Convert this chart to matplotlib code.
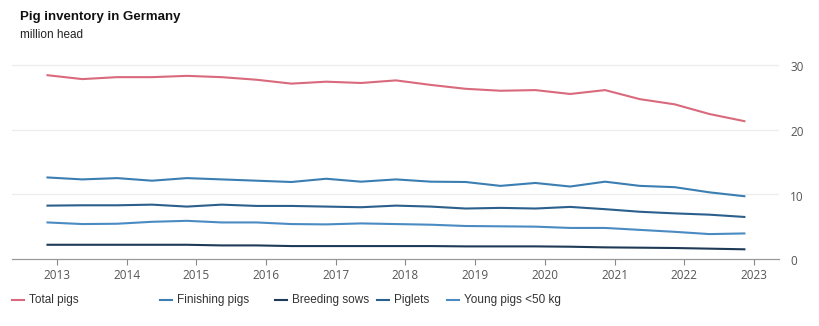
import matplotlib
matplotlib.use("Agg")
import matplotlib.pyplot as plt
from matplotlib.lines import Line2D

# Survey dates (May / November counts), million head
survey_months = [
    "2012-11", "2013-05", "2013-11", "2014-05", "2014-11", "2015-05", "2015-11",
    "2016-05", "2016-11", "2017-05", "2017-11", "2018-05", "2018-11", "2019-05",
    "2019-11", "2020-05", "2020-11", "2021-05", "2021-11", "2022-05", "2022-11",
]
total_pigs = [28.4, 27.8, 28.1, 28.1, 28.3, 28.1, 27.7, 27.1, 27.4, 27.2, 27.6,
              26.9, 26.3, 26.0, 26.1, 25.5, 26.1, 24.7, 23.9, 22.4, 21.3]
finishing_pigs = [12.6, 12.3, 12.5, 12.1, 12.5, 12.3, 12.1, 11.9, 12.4, 11.95, 12.3,
                  11.95, 11.9, 11.3, 11.75, 11.2, 11.95, 11.3, 11.1, 10.3, 9.7]
breeding_sows = [2.2, 2.2, 2.2, 2.2, 2.2, 2.1, 2.1, 2.0, 2.0, 2.0, 2.0,
                 2.0, 1.95, 1.95, 1.95, 1.9, 1.8, 1.75, 1.7, 1.6, 1.5]
piglets = [8.25, 8.3, 8.3, 8.4, 8.1, 8.4, 8.2, 8.2, 8.1, 8.0, 8.25,
           8.1, 7.8, 7.9, 7.8, 8.05, 7.7, 7.3, 7.05, 6.85, 6.5]
young_pigs = [5.65, 5.4, 5.45, 5.75, 5.9, 5.65, 5.65, 5.4, 5.35, 5.5, 5.4,
              5.3, 5.1, 5.05, 5.0, 4.8, 4.8, 4.5, 4.2, 3.85, 3.95]
years = list(range(2013, 2024))
y_ticks = [0, 10, 20, 30]

series = [
    ("Total pigs", total_pigs, "#d9697c"),
    ("Finishing pigs", finishing_pigs, "#3b7eb2"),
    ("Breeding sows", breeding_sows, "#1e3a56"),
    ("Piglets", piglets, "#2b5f8c"),
    ("Young pigs <50 kg", young_pigs, "#4a8bc2"),
]


def to_decimal_year(s):
    y, m = s.split("-")
    return int(y) + (int(m) - 1) / 12 + 0.03


x = [to_decimal_year(s) for s in survey_months]

fig = plt.figure(figsize=(8.2, 3.26), dpi=100)
ax = fig.add_axes([12 / 820, 0.2055, 767 / 820, 0.6154])

for label, values, color in series:
    ax.plot(x, values, color=color, lw=1.5, solid_joinstyle="round")

ax.set_xlim(2012.354, 2023.36)
ax.set_ylim(0, 31)
ax.set_xticks(years)
ax.set_xticklabels([str(y) for y in years], fontfamily="Open Sans", fontsize=8.5, color="#555555")
ax.set_yticks(y_ticks)
ax.set_yticklabels([])
# value labels sit right of the plot area, past the gridline ends
for v in y_ticks:
    ax.annotate(str(v), xy=(1, v), xycoords=("axes fraction", "data"),
                xytext=(8, -1), textcoords="offset points", ha="left", va="center_baseline",
                fontfamily="Open Sans", fontsize=8.5, color="#555555")
ax.tick_params(axis="y", left=False, right=False)
ax.tick_params(axis="x", length=4, width=0.8, color="#888888", pad=3)

for v in y_ticks[1:]:
    ax.axhline(v, color="#ececec", lw=0.9, zorder=0)
for side in ["top", "left", "right"]:
    ax.spines[side].set_visible(False)
ax.spines["bottom"].set_color("#999999")
ax.spines["bottom"].set_linewidth(0.9)

fig.text(20 / 820, 1 - 17 / 326, "Pig inventory in Germany", fontfamily="Liberation Sans",
         fontweight="bold", fontsize=9.5, color="#111111", va="center")
fig.text(20 / 820, 1 - 35 / 326, "million head", fontfamily="Liberation Sans",
         fontsize=8.5, color="#222222", va="center")

# legend row along the bottom
legend_x = [12, 160, 275, 377, 447]
legend_y = 1 - 300 / 326
for (label, values, color), lx in zip(series, legend_x):
    fig.add_artist(Line2D([lx / 820, (lx + 12) / 820], [legend_y, legend_y],
                          color=color, lw=1.5, transform=fig.transFigure))
    fig.text((lx + 17) / 820, legend_y, label, fontfamily="Liberation Sans",
             fontsize=8.5, color="#333333", va="center")

fig.savefig("out.png", dpi=100, facecolor="white")
